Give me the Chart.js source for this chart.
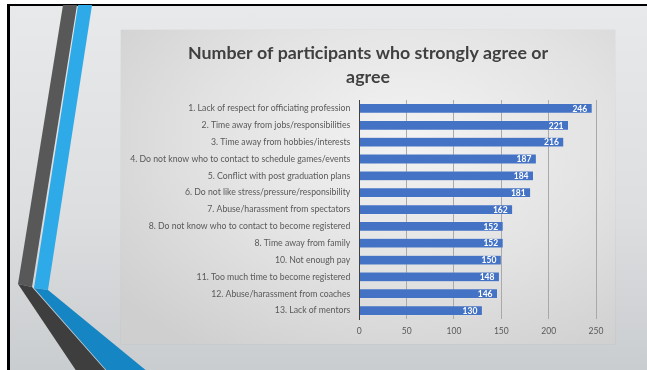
<!DOCTYPE html>
<html>
<head>
<meta charset="utf-8">
<script src="https://cdn.jsdelivr.net/npm/chart.js@4.4.1/dist/chart.umd.min.js"></script>
<style>
	html, body { margin: 0; padding: 0; background: #fff; }
	body { width: 647px; height: 370px; position: relative; overflow: hidden; }
	#slide {
		position: absolute; left: 7px; top: 4px; width: 650px; height: 380px;
		border-left: 3px solid #000; border-top: 2px solid #000;
		background: linear-gradient(180deg, #e8e9ea 0%, #dcdee0 55%, #c8cbcd 100%);
	}
	#deco { position: absolute; left: 0; top: 0; }
	#chart-box {
		position: absolute; left: 121px; top: 30px; width: 494px; height: 314px;
		background: radial-gradient(ellipse 75% 80% at 58% 35%, #f3f3f3 0%, #e2e2e2 55%, #cfcfcf 100%);
		box-shadow: 0 0 1px rgba(0,0,0,0.15);
	}
</style>
</head>
<body>
<div id="slide"></div>
<svg id="deco" width="647" height="370">
	<polygon points="63,5 77,5 32,287 18,284" fill="#585858" />
	<polygon points="78,5 92,5 48,290 34,288" fill="#2eaae9" />
	<polygon points="18,284 32,287 107,372 77,372" fill="#3e3e3e" />
	<polygon points="34,288 48,290 148,372 108,372" fill="#1585c3" />
</svg>
<div id="chart-box"><canvas id="chart-js" width="494" height="314"></canvas></div>
<script>
const categories = [
	"1. Lack of respect for officiating profession",
	"2. Time away from jobs/responsibilities",
	"3. Time away from hobbies/interests",
	"4. Do not know who to contact to schedule games/events",
	"5. Conflict with post graduation plans",
	"6. Do not like stress/pressure/responsibility",
	"7. Abuse/harassment from spectators",
	"8. Do not know who to contact to become registered",
	"8. Time away from family",
	"10. Not enough pay",
	"11. Too much time to become registered",
	"12. Abuse/harassment from coaches",
	"13. Lack of mentors",
];
const participantCounts = [246, 221, 216, 187, 184, 181, 162, 152, 152, 150, 148, 146, 130];
const xTicks = [0, 50, 100, 150, 200, 250];

const FONT = "Lato, 'Open Sans', sans-serif";

// white value labels just inside the end of each bar
const barValueLabels = {
	id: "barValueLabels",
	afterLayout(chart) {
		// centre the title on the whole box, not just the padded area
		if (chart.titleBlock) {
			chart.titleBlock.left = 0;
			chart.titleBlock.right = chart.width;
		}
	},
	afterDatasetsDraw(chart) {
		const ctx = chart.ctx;
		const meta = chart.getDatasetMeta(0);
		ctx.save();
		ctx.font = "bold 8.5px " + FONT;
		ctx.fillStyle = "#ffffff";
		ctx.textAlign = "right";
		ctx.textBaseline = "middle";
		meta.data.forEach((bar, i) => {
			ctx.fillText(String(participantCounts[i]), bar.x - 5, bar.y + 0.5);
		});
		ctx.restore();
	},
};

const config = {
	type: "bar",
	data: {
		labels: categories,
		datasets: [
			{
				data: participantCounts,
				backgroundColor: "#4472c4",
				borderColor: "rgba(255,255,255,0.35)",
				borderWidth: 0.5,
				categoryPercentage: 1,
				barPercentage: 0.58,
			},
		],
	},
	options: {
		indexAxis: "y",
		responsive: false,
		animation: false,
		devicePixelRatio: 1,
		layout: { padding: { left: 0, right: 19, top: 0, bottom: 0 } },
		plugins: {
			legend: { display: false },
			tooltip: { enabled: false },
			title: {
				display: true,
				text: ["Number of participants who strongly agree or", "agree"],
				color: "#404040",
				font: { family: FONT, size: 17.8, weight: "bold", lineHeight: 1.35 },
				padding: { top: 11, bottom: 11 },
			},
		},
		scales: {
			x: {
				min: 0,
				max: 250,
				afterBuildTicks(scale) {
					scale.ticks = xTicks.map((v) => ({ value: v }));
				},
				afterFit(scale) {
					scale.height = 25;
				},
				grid: { color: "#a9a9a9", lineWidth: 1, drawTicks: false },
				border: { display: false },
				ticks: { color: "#595959", font: { family: FONT, size: 8.5 }, padding: 7 },
			},
			y: {
				afterFit(scale) {
					scale.width = 238.3;
				},
				grid: { display: false, drawTicks: false },
				border: { display: true, color: "#404040", width: 1 },
				ticks: { color: "#595959", font: { family: FONT, size: 8.7 }, padding: 9, autoSkip: false },
			},
		},
	},
	plugins: [barValueLabels],
};

new Chart(document.getElementById("chart-js"), config);
</script>
</body>
</html>
